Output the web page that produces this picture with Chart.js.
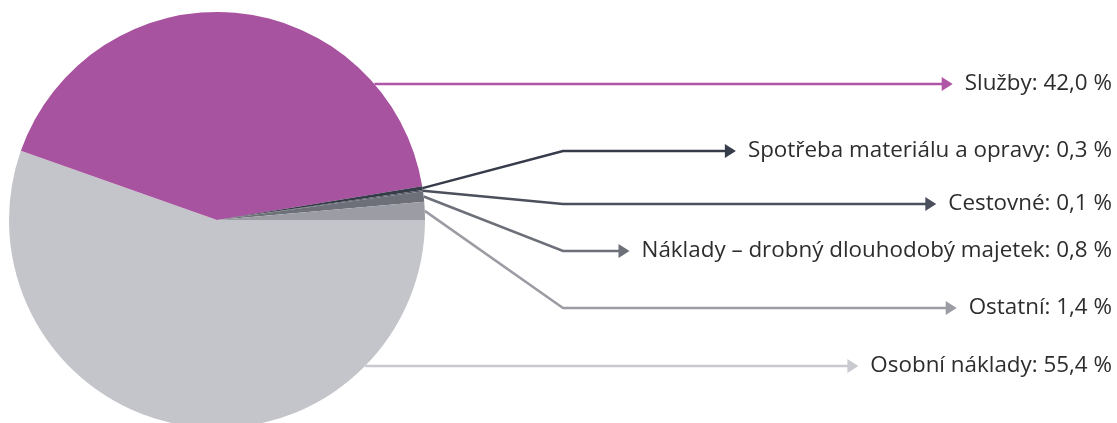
<!DOCTYPE html>
<html>
<head>
<meta charset="utf-8">
<script src="https://cdn.jsdelivr.net/npm/chart.js@4.4.1/dist/chart.umd.min.js"></script>
<style>
  html, body { margin: 0; padding: 0; background: #fff; overflow: hidden; }
  #wrap { position: relative; width: 1117px; height: 423px; }
</style>
</head>
<body>
<div id="wrap"><canvas id="myChart"></canvas></div>
<script>
var labels = ["Osobní náklady", "Služby", "Spotřeba materiálu a opravy", "Cestovné",
  "Náklady – drobný dlouhodobý majetek", "Ostatní"];
var values = [55.4, 42.0, 0.3, 0.1, 0.8, 1.4];
var sliceColors = ["#c4c5ca", "#a8539f", "#363c4a", "#4b505c", "#6d6f79", "#9c9da4"];
var lineColors = ["#c9cacf", "#b056a6", "#363c4a", "#4b505c", "#6d6f79", "#9c9da4"];

// where each label sits (y) and how its leader is drawn
var labelY = [366, 84, 151, 204, 251, 308];
var leaderType = ["flat", "flat", "elbow", "elbow", "elbow", "elbow"];
var elbowX = 563;
var textRight = 1112;

var leaderPlugin = {
  id: "leaders",
  afterDatasetsDraw: function (chart) {
    var ctx = chart.ctx;
    var arcs = chart.getDatasetMeta(0).data;
    ctx.save();
    ctx.font = "22.4px 'Open Sans'";
    ctx.textBaseline = "middle";
    ctx.textAlign = "right";
    arcs.forEach(function (arc, i) {
      var cx = arc.x, cy = arc.y, r = arc.outerRadius;
      var y = labelY[i];
      var text = labels[i] + ": " + values[i].toFixed(1).replace(".", ",") + " %";
      var tw = ctx.measureText(text).width;
      var tip = textRight - tw - 12;
      var sx, sy;
      ctx.strokeStyle = lineColors[i];
      ctx.fillStyle = lineColors[i];
      ctx.lineWidth = 2.5;
      ctx.beginPath();
      if (leaderType[i] === "flat") {
        var dy = y - cy;
        sx = cx + Math.sqrt(Math.max(r * r - dy * dy, 0));
        ctx.moveTo(sx, y);
      } else {
        var mid = (arc.startAngle + arc.endAngle) / 2;
        sx = cx + Math.cos(mid) * r;
        sy = cy + Math.sin(mid) * r;
        ctx.moveTo(sx, sy);
        ctx.lineTo(elbowX, y);
      }
      ctx.lineTo(tip - 8, y);
      ctx.stroke();
      ctx.beginPath();
      ctx.moveTo(tip, y);
      ctx.lineTo(tip - 11, y - 7);
      ctx.lineTo(tip - 11, y + 7);
      ctx.closePath();
      ctx.fill();
      ctx.fillStyle = "#2d2d2d";
      ctx.fillText(text, textRight, y);
    });
    ctx.restore();
  }
};

new Chart("myChart", {
  type: "pie",
  data: {
    labels: labels,
    datasets: [{
      data: values,
      backgroundColor: sliceColors,
      borderWidth: 0,
      radius: 208,
      clip: false
    }]
  },
  plugins: [leaderPlugin],
  options: {
    responsive: true,
    maintainAspectRatio: false,
    animation: false,
    rotation: 90,
    layout: { padding: { left: 0, right: 683, top: 17, bottom: 0 } },
    plugins: {
      legend: { display: false },
      tooltip: { enabled: false }
    }
  }
});
</script>
</body>
</html>
